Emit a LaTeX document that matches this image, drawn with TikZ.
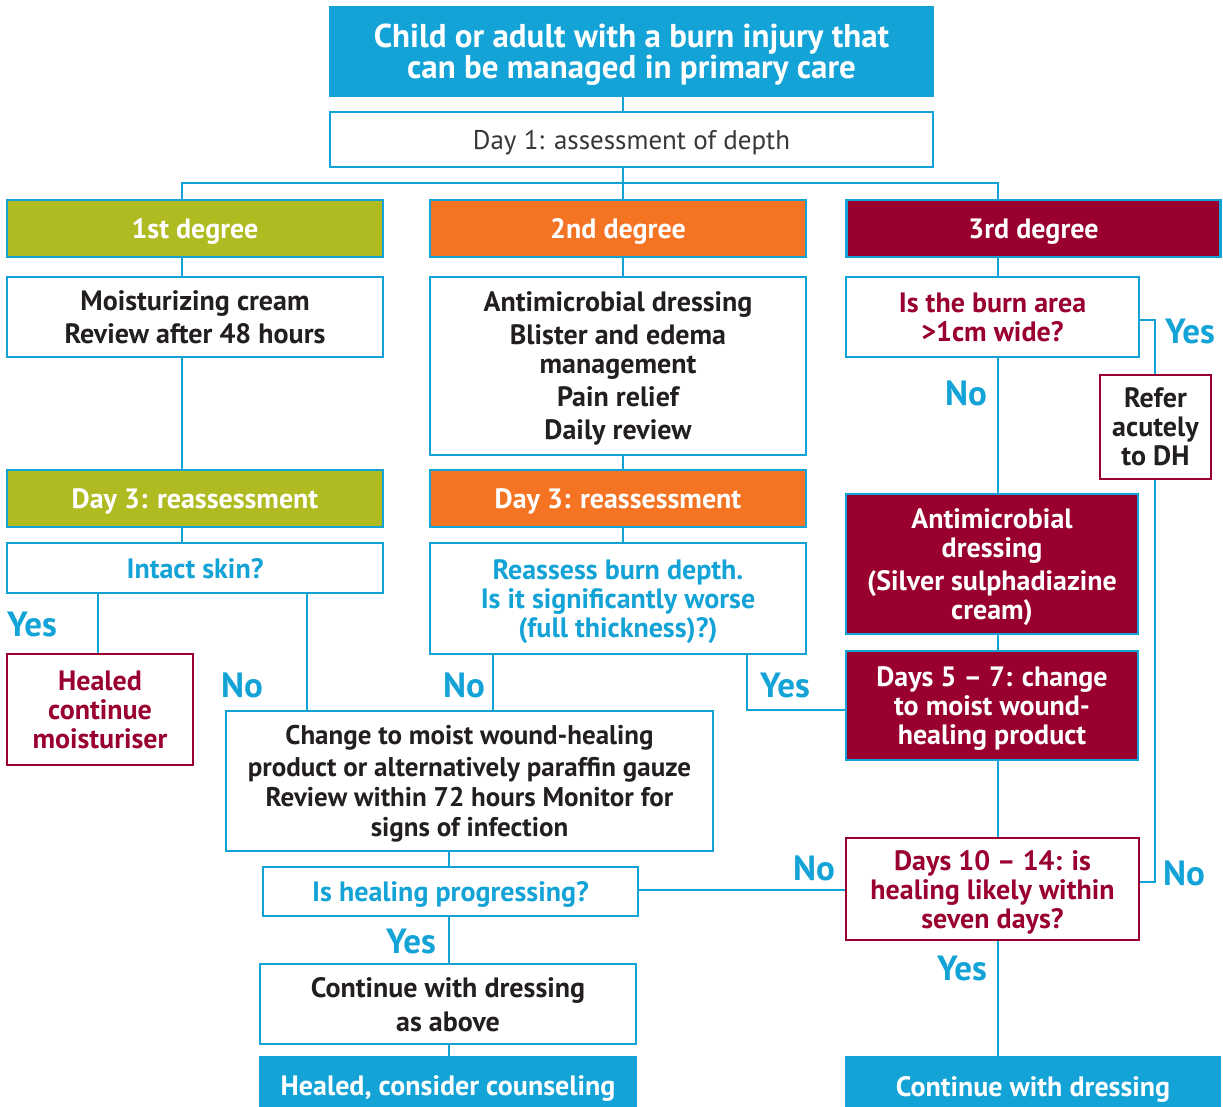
\documentclass[tikz,border=0pt]{standalone}
\usepackage{fontspec}
\setmainfont{PT Sans}
\definecolor{cblue}{RGB}{20,163,214}
\definecolor{cgreen}{RGB}{175,187,33}
\definecolor{corange}{RGB}{244,116,36}
\definecolor{cred}{RGB}{153,0,48}
\definecolor{ctext}{RGB}{35,31,32}
\definecolor{cgray}{RGB}{55,55,55}
\tikzset{
  box/.style={draw=cblue, line width=2.5pt, fill=white, align=center, inner sep=0pt,
    text depth=0pt, text=ctext, font=\bfseries\fontsize{28}{29}\selectfont},
  fillbox/.style={box, fill=#1, text=white},
  redbox/.style={box, draw=cred},
  lab/.style={text=cblue, inner sep=0pt, font=\bfseries\fontsize{35}{36}\selectfont},
  conn/.style={draw=cblue, line width=2.5pt},
}
\begin{document}
\begin{tikzpicture}[x=1pt,y=-1pt]
\clip (0,0) rectangle (1223,1106);
\fill[white] (0,0) rectangle (1223,1106);
% top
\node[fillbox=cblue, minimum width=603, minimum height=89, font=\bfseries\fontsize{33}{30}\selectfont] (title) at (631.5,51.5) {Child or adult with a burn injury that\\can be managed in primary care};
\node[box, minimum width=603, minimum height=55, text=cgray, font=\fontsize{27}{28}\selectfont] (day1) at (631.5,139.5) {Day 1: assessment of depth};
% degrees
\node[fillbox=cgreen, minimum width=376, minimum height=57] (deg1) at (195,228.5) {1st degree};
\node[fillbox=corange, minimum width=376, minimum height=57] (deg2) at (618,228.5) {2nd degree};
\node[fillbox=cred, minimum width=374, minimum height=57] (deg3) at (1033.5,228.5) {3rd degree};
% column 1
\node[box, minimum width=376, minimum height=80] (moist) at (195,317) {Moisturizing cream\\[4pt]Review after 48 hours};
\node[fillbox=cgreen, minimum width=376, minimum height=57] (day3a) at (195,498.5) {Day 3: reassessment};
\node[box, minimum width=376, minimum height=50, text=cblue] (intact) at (195,568) {Intact skin?};
\node[redbox, minimum width=186, minimum height=111, text=cred] (healed) at (100,709.5) {Healed\\continue\\moisturiser};
% column 2
\node[box, minimum width=376, minimum height=178] (anti) at (618,366) {Antimicrobial dressing\\[4pt]Blister and edema\\management\\[4pt]Pain relief\\[4pt]Daily review};
\node[fillbox=corange, minimum width=376, minimum height=57] (day3b) at (618,498.5) {Day 3: reassessment};
\node[box, minimum width=376, minimum height=111, text=cblue] (reass) at (618,598.5) {Reassess burn depth.\\Is it significantly worse\\(full thickness)?)};
\node[box, minimum width=487, minimum height=140, font=\bfseries\fontsize{27}{30}\selectfont] (change) at (469.5,781) {Change to moist wound-healing\\[2pt]product or alternatively paraffin gauze\\Review within 72 hours Monitor for\\signs of infection};
\node[box, minimum width=375, minimum height=49, text=cblue] (prog) at (450.5,891.5) {Is healing progressing?};
\node[box, minimum width=376, minimum height=80] (cont) at (448,1004) {Continue with dressing\\[5pt]as above};
\node[fillbox=cblue, minimum width=376, minimum height=58] (healc) at (448,1086) {Healed, consider counseling};
% column 3
\node[box, minimum width=293, minimum height=80, text=cred] (burn) at (992.5,317) {Is the burn area\\>1cm wide?};
\node[redbox, minimum width=111, minimum height=104] (refer) at (1155.5,427) {Refer\\acutely\\to DH};
\node[fillbox=cred, minimum width=292, minimum height=140] (amd) at (992,564) {Antimicrobial\\dressing\\[4pt](Silver sulphadiazine\\cream)};
\node[fillbox=cred, minimum width=292, minimum height=109] (d57) at (992,705.5) {Days 5 -- 7: change\\to moist wound-\\healing product};
\node[redbox, minimum width=293, minimum height=102, text=cred] (d1014) at (992.5,889) {Days 10 -- 14: is\\healing likely within\\seven days?};
\node[fillbox=cblue, minimum width=374, minimum height=58] (contd) at (1033,1086) {Continue with dressing};
% helper coordinates
\coordinate (c1) at (182,0);
\coordinate (c2) at (623,0);
\coordinate (c3) at (998,0);
\coordinate (c4) at (449,0);
\coordinate (c1y) at (98,0);
\coordinate (c1n) at (307,0);
\coordinate (c2n) at (493,0);
\coordinate (c2y) at (747,0);
\coordinate (bus) at (623,183);
\coordinate (jy) at (1155,320);
\coordinate (jn) at (1155,882);
\coordinate (j57) at (0,710);
\coordinate (jp) at (0,890);
% connectors
\draw[conn] (title.south -| c2) -- (day1.north -| c2);
\draw[conn] (day1.south -| c2) -- (deg2.north -| c2);
\draw[conn] (deg1.north -| c1) |- (bus) -| (deg3.north -| c3);
\draw[conn] (deg1.south -| c1) -- (moist.north -| c1);
\draw[conn] (moist.south -| c1) -- (day3a.north -| c1);
\draw[conn] (day3a.south -| c1) -- (intact.north -| c1);
\draw[conn] (intact.south -| c1y) -- (healed.north -| c1y);
\draw[conn] (intact.south -| c1n) -- (change.north -| c1n);
\draw[conn] (deg2.south -| c2) -- (anti.north -| c2);
\draw[conn] (anti.south -| c2) -- (day3b.north -| c2);
\draw[conn] (day3b.south -| c2) -- (reass.north -| c2);
\draw[conn] (reass.south -| c2n) -- (change.north -| c2n);
\draw[conn] (reass.south -| c2y) |- (d57.west |- j57);
\draw[conn] (change.south -| c4) -- (prog.north -| c4);
\draw[conn] (prog.south -| c4) -- (cont.north -| c4);
\draw[conn] (cont.south -| c4) -- (healc.north -| c4);
\draw[conn] (deg3.south -| c3) -- (burn.north -| c3);
\draw[conn] (burn.south -| c3) -- (amd.north -| c3);
\draw[conn] (amd.south -| c3) -- (d57.north -| c3);
\draw[conn] (d57.south -| c3) -- (d1014.north -| c3);
\draw[conn] (d1014.south -| c3) -- (contd.north -| c3);
\draw[conn] (burn.east |- jy) -| (refer.north -| jy);
\draw[conn] (refer.south -| jn) |- (d1014.east |- jn);
\draw[conn] (d1014.west |- jp) -- (prog.east |- jp);
% labels
\node[lab] (l1) at (32,624) {Yes};
\node[lab] (l2) at (242,685) {No};
\node[lab] (l3) at (464,685) {No};
\node[lab] (l4) at (785,685) {Yes};
\node[lab] (l5) at (411,941) {Yes};
\node[lab] (l6) at (966,393) {No};
\node[lab] (l7) at (1190,331) {Yes};
\node[lab] (l8) at (814,868) {No};
\node[lab] (l9) at (1184,873) {No};
\node[lab] (l10) at (962,968) {Yes};
\end{tikzpicture}
\end{document}
